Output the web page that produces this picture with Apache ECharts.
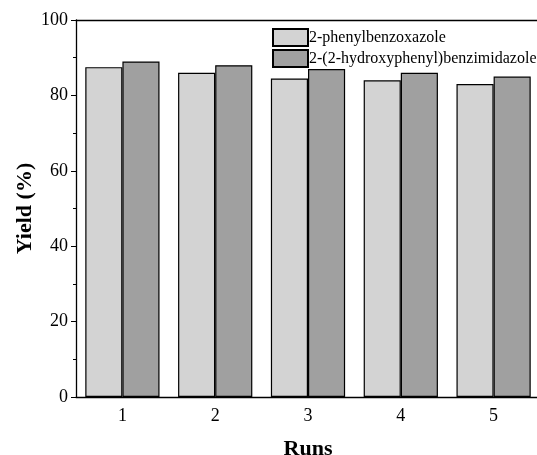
<!DOCTYPE html>
<html><head><meta charset="utf-8">
<script src="https://cdn.jsdelivr.net/npm/echarts@6/dist/echarts.min.js"></script>
<style>html,body{margin:0;padding:0;background:#fff}#c{width:537px;height:455px}</style>
</head><body><div id="c"></div>
<script>
const categories = ['1','2','3','4','5'];
const seriesNames = ['2-phenylbenzoxazole','2-(2-hydroxyphenyl)benzimidazole'];
const phenylbenzoxazole = [87.5, 86, 84.5, 84, 83];
const hydroxyphenylbenzimidazole = [89, 88, 87, 86, 85];
const yTicks = [0, 20, 40, 60, 80, 100];

const font = '"Liberation Serif","Times New Roman",serif';
const chart = echarts.init(document.getElementById('c'));
chart.setOption({
  animation: false,
  backgroundColor: '#fff',
  grid: {left: 76, right: -3, top: 20, bottom: 58, show: false, containLabel: false, outerBoundsMode: 'none'},
  legend: {
    orient: 'vertical', left: 267, top: 23, itemWidth: 35, itemHeight: 17, itemGap: 2,
    icon: 'rect',
    textStyle: {fontFamily: font, fontSize: 16, color: '#000', padding: [0,0,0,-4]},
    data: seriesNames
  },
  xAxis: [{
    type: 'category', data: categories,
    axisLine: {lineStyle: {color: '#000', width: 1.3}},
    axisTick: {show: false},
    axisLabel: {fontFamily: font, fontSize: 18, color: '#000', margin: 10},
    name: 'Runs', nameLocation: 'middle', nameGap: 41, nameMoveOverlap: false,
    nameTextStyle: {fontFamily: font, fontSize: 22, fontWeight: 'bold', color: '#000'}
  }, {
    type: 'category', data: categories, position: 'top',
    axisLine: {show: true, lineStyle: {color: '#000', width: 1.3}},
    axisTick: {show: false}, axisLabel: {show: false}
  }],
  yAxis: {
    type: 'value', min: yTicks[0], max: yTicks[yTicks.length-1], interval: 20,
    splitLine: {show: false},
    axisLine: {show: true, lineStyle: {color: '#000', width: 1.3}},
    axisTick: {show: true, length: 5, lineStyle: {color: '#000'}},
    minorTick: {show: true, splitNumber: 2, length: 3, lineStyle: {color: '#000'}},
    axisLabel: {fontFamily: font, fontSize: 18, color: '#000', margin: 8},
    name: 'Yield (%)', nameLocation: 'middle', nameGap: 40, nameMoveOverlap: false,
    nameTextStyle: {fontFamily: font, fontSize: 22, fontWeight: 'bold', color: '#000'}
  },
  series: [
    {name: seriesNames[0], type: 'bar', data: phenylbenzoxazole, barGap: '0%', barCategoryGap: '20%',
     itemStyle: {color: '#d3d3d3', borderColor: '#000', borderWidth: 1.2}},
    {name: seriesNames[1], type: 'bar', data: hydroxyphenylbenzimidazole, barGap: '0%', barCategoryGap: '20%',
     itemStyle: {color: '#a0a0a0', borderColor: '#000', borderWidth: 1.2}}
  ]
});
</script></body></html>
